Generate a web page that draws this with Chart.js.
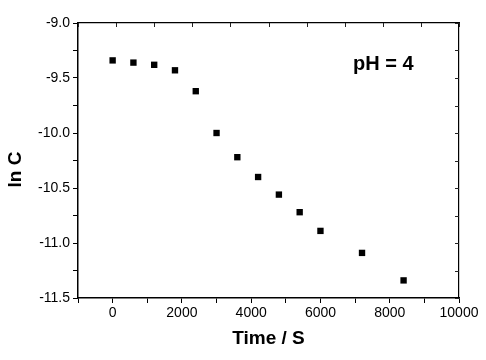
<!DOCTYPE html>
<html>
<head>
<meta charset="utf-8">
<script src="https://cdn.jsdelivr.net/npm/chart.js@4/dist/chart.umd.min.js"></script>
<style>
  body { margin: 0; background: #fff; }
  canvas { display: block; }
</style>
</head>
<body>
<canvas id="chart1" width="486" height="360"></canvas>
<script>
// time (s) and ln C
var timeS = [0, 600, 1200, 1800, 2400, 3000, 3600, 4200, 4800, 5400, 6000, 7200, 8400];
var lnC = [-9.34, -9.36, -9.38, -9.43, -9.62, -10.00, -10.22, -10.40, -10.56, -10.72, -10.89, -11.09, -11.34];

// labelled ticks, the other ticks stay blank (minor)
var xLabels = [0, 2000, 4000, 6000, 8000, 10000];
var yLabels = ['-9.0', '-9.5', '-10.0', '-10.5', '-11.0', '-11.5'];

var fontFam = "'Liberation Sans', Arial, sans-serif";
Chart.defaults.color = '#000';
Chart.defaults.font.family = fontFam;

var points = [];
for (var i = 0; i < timeS.length; i++) {
  points.push({x: timeS[i], y: lnC[i]});
}

// inward ticks on top / right axes + text labels
var extras = {
  id: 'extras',
  afterDraw: function(chart) {
    var ctx = chart.ctx;
    var area = chart.chartArea;
    ctx.save();
    ctx.strokeStyle = '#222';
    ctx.lineWidth = 1;
    var x2 = chart.scales.x2;
    x2.ticks.forEach(function(t) {
      var px = Math.round(x2.getPixelForValue(t.value)) + 0.5;
      ctx.beginPath();
      ctx.moveTo(px, area.top);
      ctx.lineTo(px, area.top + 4);
      ctx.stroke();
    });
    var y2 = chart.scales.y2;
    y2.ticks.forEach(function(t) {
      var py = Math.round(y2.getPixelForValue(t.value)) + 0.5;
      ctx.beginPath();
      ctx.moveTo(area.right, py);
      ctx.lineTo(area.right - 4, py);
      ctx.stroke();
    });

    ctx.fillStyle = '#000';
    ctx.font = 'bold 20px ' + fontFam;
    ctx.textAlign = 'left';
    ctx.textBaseline = 'middle';
    ctx.fillText('pH = 4', area.right - 106, area.top + 41);

    ctx.translate(16, (area.top + area.bottom) / 2 + 9);
    ctx.rotate(-Math.PI / 2);
    ctx.textAlign = 'center';
    ctx.font = 'bold 19px ' + fontFam;
    ctx.fillText('ln C', 0, 0);
    ctx.restore();
  }
};

var ctx = document.getElementById('chart1');
var chart = new Chart(ctx, {
  type: 'scatter',
  data: {
    datasets: [{
      data: points,
      pointStyle: 'rect',
      pointRadius: 4.5,
      backgroundColor: '#000',
      borderColor: '#000',
      borderWidth: 0
    }]
  },
  options: {
    responsive: false,
    animation: false,
    layout: { padding: { left: 0, right: 27, top: 23, bottom: 0 } },
    plugins: { legend: { display: false }, tooltip: { enabled: false } },
    scales: {
      x: {
        type: 'linear',
        position: 'bottom',
        min: -1000,
        max: 10000,
        afterFit: function(s) { s.height = 62; },
        ticks: {
          stepSize: 1000,
          autoSkip: false,
          maxRotation: 0,
          padding: 2,
          font: { size: 14 },
          callback: function(v) { return xLabels.indexOf(v) >= 0 ? String(v) : ''; }
        },
        grid: { drawOnChartArea: false, tickLength: 5, color: '#000', tickWidth: 1 },
        border: { color: '#000', width: 1.5 },
        title: {
          display: true,
          text: 'Time / S',
          font: { size: 19, weight: 'bold' },
          padding: { top: 0, bottom: 10 }
        }
      },
      y: {
        type: 'linear',
        position: 'left',
        min: -11.5,
        max: -9.0,
        afterFit: function(s) { s.width = 78; },
        ticks: {
          stepSize: 0.25,
          autoSkip: false,
          padding: 3,
          font: { size: 14 },
          callback: function(v) {
            var lab = v.toFixed(1);
            return (Math.abs(v * 2 - Math.round(v * 2)) < 1e-6 && yLabels.indexOf(lab) >= 0) ? lab : '';
          }
        },
        grid: { drawOnChartArea: false, tickLength: 5, color: '#000', tickWidth: 1 },
        border: { color: '#000', width: 1.5 }
      },
      x2: {
        type: 'linear',
        position: 'top',
        min: -1000,
        max: 10000,
        afterFit: function(s) { s.height = 0; },
        ticks: { display: false, stepSize: 1100 },
        grid: { display: false, drawTicks: false },
        border: { color: '#000', width: 1.2 }
      },
      y2: {
        type: 'linear',
        position: 'right',
        min: -11.5,
        max: -9.0,
        afterFit: function(s) { s.width = 0; },
        ticks: { display: false, stepSize: 0.25 },
        grid: { display: false, drawTicks: false },
        border: { color: '#000', width: 1.2 }
      }
    }
  },
  plugins: [extras]
});
</script>
</body>
</html>
